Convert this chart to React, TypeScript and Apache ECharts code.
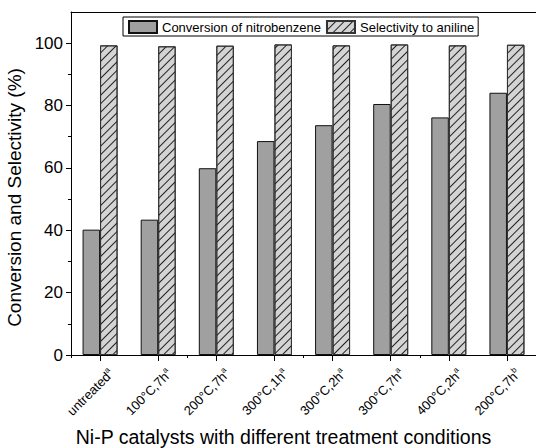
import React, { useEffect, useRef } from "react";
import * as echarts from "echarts";

const categories = ["untreated", "100°C,7h", "200°C,7h", "300°C,1h", "300°C,2h", "300°C,7h", "400°C,2h", "200°C,7h"];
const superscripts = ["a", "a", "a", "a", "a", "a", "a", "b"];
const conversion = [40.2, 43.4, 59.9, 68.6, 73.7, 80.5, 76.2, 84.1];
const selectivity = [99.3, 99.0, 99.2, 99.6, 99.3, 99.6, 99.3, 99.5];
const majorTicks = [0, 20, 40, 60, 80, 100];
const minorTicks = [10, 30, 50, 70, 90];

const FONT = "'Liberation Sans', Arial, Helvetica, sans-serif";

export default function App() {
  const ref = useRef<HTMLDivElement>(null);
  useEffect(() => {
    if (!ref.current) return;
    const chart = echarts.init(ref.current, null, { renderer: "svg" });
    const option: any = {
      animation: false,
      backgroundColor: "#fff",
      textStyle: { fontFamily: FONT, color: "#000" },
      grid: { left: 71, right: 0, top: 12, bottom: 93, containLabel: false, outerBoundsMode: "none" },
      legend: {
        left: 123,
        top: 17,
        padding: [3, 4, 2, 5],
        itemGap: 5,
        itemWidth: 28,
        itemHeight: 12,
        borderColor: "#000",
        borderWidth: 1,
        backgroundColor: "#fff",
        textStyle: { fontFamily: FONT, fontSize: 13, color: "#000" },
        data: [
          { name: "Conversion of nitrobenzene", icon: "rect" },
          { name: "Selectivity to aniline", icon: "rect" },
        ],
      },
      xAxis: [
        {
          type: "category",
          data: categories,
          position: "bottom",
          axisLine: { show: true, lineStyle: { color: "#000", width: 1 } },
          axisTick: { show: true, alignWithLabel: true, length: 6, lineStyle: { color: "#000" } },
          axisLabel: {
            interval: 0,
            rotate: 45,
            margin: 5,
            verticalAlign: "top",
            padding: [8, 0, 0, 0],
            formatter: (v: string, i: number) => `{n|${v}}{s|${superscripts[i]}}`,
            rich: {
              n: { fontFamily: FONT, fontSize: 13, color: "#000", lineHeight: 16 },
              s: { fontFamily: FONT, fontSize: 8, color: "#000", verticalAlign: "top", lineHeight: 8 },
            },
          },
          name: "Ni-P catalysts with different treatment conditions",
          nameLocation: "middle",
          nameGap: 72,
          nameTextStyle: { fontFamily: FONT, fontSize: 19.5, color: "#000", padding: [0, 40, 0, 0] },
        },
        {
          type: "category",
          data: categories,
          position: "bottom",
          axisLine: { show: false },
          axisTick: { show: true, length: 3, lineStyle: { color: "#000" } },
          axisLabel: { show: false },
          splitLine: { show: false },
        },
        {
          type: "category",
          data: categories,
          position: "top",
          axisLine: { show: true, lineStyle: { color: "#000", width: 1 } },
          axisTick: { show: false },
          axisLabel: { show: false },
          splitLine: { show: false },
        },
      ],
      yAxis: [
        {
          type: "value",
          min: 0,
          max: 110,
          interval: 10,
          position: "left",
          axisLine: { show: true, lineStyle: { color: "#000", width: 1 } },
          axisTick: { show: true, length: 5, customValues: majorTicks, lineStyle: { color: "#000" } },
          axisLabel: { customValues: majorTicks, fontFamily: FONT, fontSize: 17, color: "#000", margin: 8 },
          splitLine: { show: false },
          name: "Conversion and Selectivity (%)",
          nameLocation: "middle",
          nameGap: 41,
          nameTextStyle: { fontFamily: FONT, fontSize: 19, color: "#000", padding: [0, 28, 0, 0] },
        },
        {
          type: "value",
          min: 0,
          max: 110,
          interval: 10,
          position: "left",
          axisLine: { show: false },
          axisTick: { show: true, length: 3, customValues: minorTicks, lineStyle: { color: "#000" } },
          axisLabel: { show: false },
          splitLine: { show: false },
        },
      ],
      series: [
        {
          name: "Conversion of nitrobenzene",
          type: "bar",
          xAxisIndex: 0,
          yAxisIndex: 0,
          data: conversion,
          barWidth: 17.5,
          barGap: "0%",
          itemStyle: { color: "#a0a0a0", borderColor: "#111", borderWidth: 1 },
        },
        {
          name: "Selectivity to aniline",
          type: "bar",
          xAxisIndex: 0,
          yAxisIndex: 0,
          data: selectivity,
          barWidth: 17.5,
          barGap: "0%",
          itemStyle: {
            color: "#d4d4d4",
            borderColor: "#333",
            borderWidth: 1,
            decal: {
              symbol: "rect",
              symbolSize: 1,
              dashArrayX: [1, 0],
              dashArrayY: [1, 4.2],
              rotation: -Math.PI / 4,
              color: "rgba(0,0,0,0.85)",
            },
          },
        },
      ],
    };
    chart.setOption(option);
    return () => chart.dispose();
  }, []);
  return <div ref={ref} style={{ position: "absolute", left: 0, top: 0, width: 536, height: 448 }} />;
}
